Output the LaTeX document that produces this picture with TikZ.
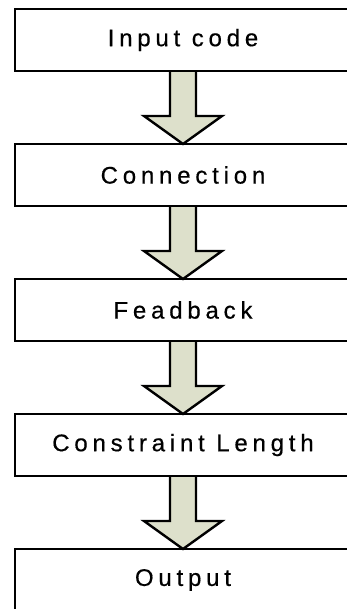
\documentclass[tikz,border=0pt]{standalone}
\usepackage{fontspec}
\setmainfont{Liberation Sans}[LetterSpace=20, FakeBold=0.5]
\usetikzlibrary{calc}
\pgfdeclarelayer{background}
\pgfsetlayers{background,main}
\definecolor{arrowfill}{RGB}{221,224,203}
\tikzset{
  x=1pt, y=1pt,
  stagebox/.style={draw=black, line width=2.6pt, minimum width=336pt,
    minimum height=62pt, inner sep=0pt, outer sep=0pt,
    font=\fontsize{24}{28}\selectfont},
  blockarrow/.style={draw=black, fill=arrowfill, line width=2.4pt,
    line join=miter},
}
\newcommand{\blockarrowfrom}[2]{%
  \begin{pgfonlayer}{background}
    \draw[blockarrow]
      ($(#1.south)+(-13,0)$) -- ($(#2.north)+(-13,28)$)
      -- ($(#2.north)+(-39,28)$) -- (#2.north)
      -- ($(#2.north)+(39,28)$) -- ($(#2.north)+(13,28)$)
      -- ($(#1.south)+(13,0)$);
  \end{pgfonlayer}}
\begin{document}
\begin{tikzpicture}
\useasboundingbox (0,0) rectangle (347,-609);
\clip (0,0) rectangle (347,-609);
\node[stagebox] (input)  at (183,-40)  {Input code};
\node[stagebox] (conn)   at (183,-175) {Connection};
\node[stagebox] (feed)   at (183,-310) {Feadback};
\node[stagebox] (constr) at (183,-445) {Constraint Length};
\node[stagebox] (output) at (183,-580) {Output};
\blockarrowfrom{input}{conn}
\blockarrowfrom{conn}{feed}
\blockarrowfrom{feed}{constr}
\blockarrowfrom{constr}{output}
\end{tikzpicture}
\end{document}
